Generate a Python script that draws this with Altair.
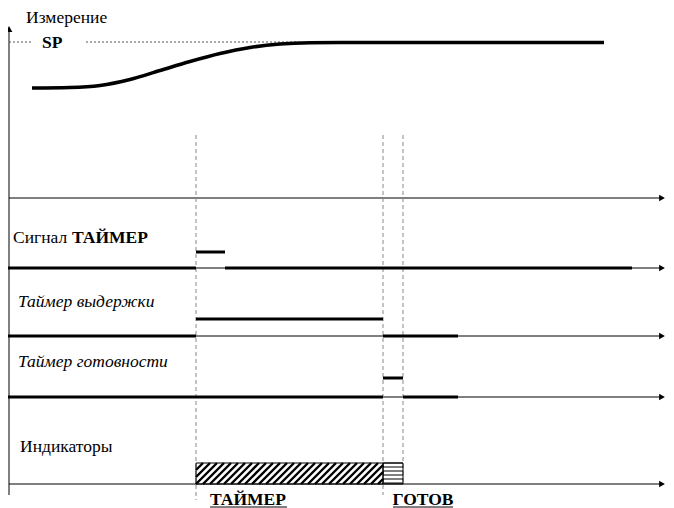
import altair as alt
import pandas as pd

# ---------------- data (diagram units: time along x, level along y) ----------------
T_AXIS = 9          # origin of time axis
T_START = 196       # timer started
T_PULSE = 225       # end of "Сигнал ТАЙМЕР" pulse
T_HOLD = 383        # end of hold timer
T_READY = 403       # end of readiness timer
T_END = 660         # end of time axes
T_ARROW = 662       # arrow heads

# process value curve
curve_t = [32, 70, 100, 130, 160, 190, 220, 250, 280, 310, 340, 604]
curve_v = [88, 87.5, 85.5, 79.5, 70.5, 61.5, 53.5, 47.5, 44, 42.7, 42.5, 42.5]
SP_LEVEL = 42

# row baselines (time axes)
axis_levels = [198, 268, 336, 397, 484]

# signal segments: (t1, t2, level)
sig_segments = [
    # Сигнал ТАЙМЕР
    (7, T_START, 268), (T_START, T_PULSE, 252), (T_PULSE, 632, 268),
    # Таймер выдержки
    (7, T_START, 336), (T_START, T_HOLD, 319), (T_HOLD, 458, 336),
    # Таймер готовности
    (7, T_HOLD, 397), (T_HOLD, T_READY, 378), (T_READY, 458, 397),
]

# vertical event markers: (t, top, bottom)
markers = [(T_START, 135, 500), (T_HOLD, 135, 495), (T_READY, 135, 485)]

# indicator boxes
IND_TOP, IND_BOT = 463, 484

# ---------------- scales ----------------
W, H = 658, 500
xs = alt.Scale(domain=[8, 8 + W], nice=False, zero=False)
ys = alt.Scale(domain=[8, 8 + H], nice=False, zero=False, reverse=True)

def X(f="x"):
    return alt.X(f"{f}:Q", scale=xs, axis=None)

def Y(f="y"):
    return alt.Y(f"{f}:Q", scale=ys, axis=None)

layers = []

# thin time axes
ax_df = pd.DataFrame({"x": [T_AXIS] * len(axis_levels), "x2": [T_END] * len(axis_levels), "y": axis_levels})
layers.append(alt.Chart(ax_df).mark_rule(color="#000", strokeWidth=1).encode(x=X(), x2="x2:Q", y=Y()))

# vertical axis
vax_df = pd.DataFrame({"x": [T_AXIS], "y": [30], "y2": [495]})
layers.append(alt.Chart(vax_df).mark_rule(color="#000", strokeWidth=1).encode(x=X(), y=Y(), y2="y2:Q"))

# arrow heads
arr_df = pd.DataFrame({"x": [T_ARROW] * len(axis_levels), "y": axis_levels})
layers.append(alt.Chart(arr_df).mark_point(shape="triangle-right", filled=True, color="#000",
                                           size=45, opacity=1).encode(x=X(), y=Y()))
up_df = pd.DataFrame({"x": [T_AXIS], "y": [29]})
layers.append(alt.Chart(up_df).mark_point(shape="triangle-up", filled=True, color="#000",
                                          size=45, opacity=1).encode(x=X(), y=Y()))

# SP dotted line
sp_df = pd.DataFrame({"x": [T_AXIS, 86], "x2": [32, 300], "y": [SP_LEVEL, SP_LEVEL]})
layers.append(alt.Chart(sp_df).mark_rule(color="#555", strokeWidth=1, strokeDash=[2, 2]).encode(
    x=X(), x2="x2:Q", y=Y()))

# dashed event markers
mk_df = pd.DataFrame(markers, columns=["x", "y", "y2"])
layers.append(alt.Chart(mk_df).mark_rule(color="#888", strokeWidth=1, strokeDash=[4, 3]).encode(
    x=X(), y=Y(), y2="y2:Q"))

# curve
cv_df = pd.DataFrame({"x": curve_t, "y": curve_v})
layers.append(alt.Chart(cv_df).mark_line(color="#000", strokeWidth=3.5, interpolate="monotone").encode(
    x=X(), y=Y()))

# thick signal segments
sg_df = pd.DataFrame(sig_segments, columns=["x", "x2", "y"])
layers.append(alt.Chart(sg_df).mark_rule(color="#000", strokeWidth=3).encode(x=X(), x2="x2:Q", y=Y()))

# indicator boxes: diagonal hatching
hatch = []
h = IND_BOT - IND_TOP
step = 7
x0 = T_START - h
while x0 < T_HOLD:
    t1 = max(0.0, (T_START - x0) / h)
    t2 = min(1.0, (T_HOLD - x0) / h)
    if t2 > t1:
        hatch.append((x0 + t1 * h, IND_BOT - t1 * h, x0 + t2 * h, IND_BOT - t2 * h))
    x0 += step
hd = pd.DataFrame(hatch, columns=["x", "y", "x2", "y2"])
layers.append(alt.Chart(hd).mark_rule(color="#000", strokeWidth=2.4).encode(
    x=X(), y=Y(), x2="x2:Q", y2="y2:Q"))

# horizontal hatching
hz = []
yy = IND_TOP
while yy <= IND_BOT:
    hz.append((T_HOLD, T_READY, yy))
    yy += 4
hzd = pd.DataFrame(hz, columns=["x", "x2", "y"])
layers.append(alt.Chart(hzd).mark_rule(color="#000", strokeWidth=1).encode(x=X(), x2="x2:Q", y=Y()))

box_df = pd.DataFrame({"x": [T_START, T_HOLD], "x2": [T_HOLD, T_READY],
                       "y": [IND_TOP, IND_TOP], "y2": [IND_BOT, IND_BOT]})
layers.append(alt.Chart(box_df).mark_rect(fill=None, stroke="#000", strokeWidth=1).encode(
    x=X(), x2="x2:Q", y=Y(), y2="y2:Q"))

# texts
FONT = "Liberation Serif"
FS = 17.5
txt = [
    ("Измерение", 26, 23, "normal", "normal", "left"),
    ("SP", 42, 48, "bold", "normal", "left"),
    ("Сигнал", 13, 243, "normal", "normal", "left"),
    ("ТАЙМЕР", 72, 243, "bold", "normal", "left"),
    ("Таймер выдержки", 18, 306.5, "normal", "italic", "left"),
    ("Таймер готовности", 18, 367, "normal", "italic", "left"),
    ("Индикаторы", 20, 452, "normal", "normal", "left"),
    ("ТАЙМЕР", 248, 505, "bold", "normal", "center"),
    ("ГОТОВ", 423, 505, "bold", "normal", "center"),
]
for s, x, y, fw, fst, al in txt:
    d = pd.DataFrame({"x": [x], "y": [y], "t": [s]})
    layers.append(alt.Chart(d).mark_text(font=FONT, fontSize=FS, fontWeight=fw, fontStyle=fst,
                                         align=al, baseline="alphabetic", color="#000").encode(
        x=X(), y=Y(), text="t:N"))

# underlines
ul_df = pd.DataFrame({"x": [210, 393], "x2": [287, 453], "y": [507, 507]})
layers.append(alt.Chart(ul_df).mark_rule(color="#000", strokeWidth=1).encode(x=X(), x2="x2:Q", y=Y()))

chart = alt.layer(*layers).properties(width=W, height=H, padding=0, autosize="none").configure_view(
    stroke=None)

chart.save("out.html", embed_options={"renderer": "svg", "actions": False})
